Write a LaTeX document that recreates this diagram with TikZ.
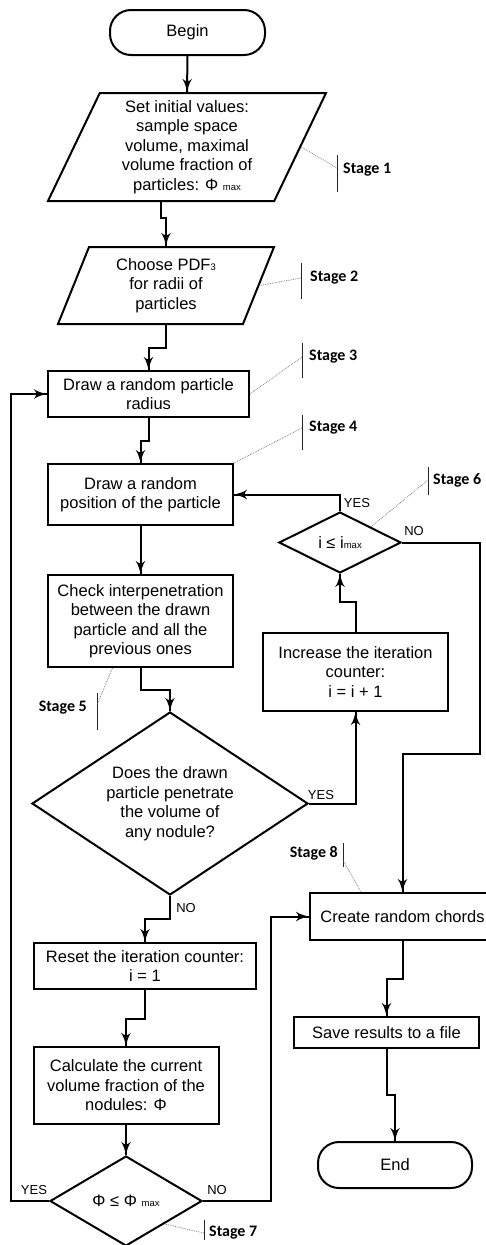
\documentclass[tikz,border=0pt]{standalone}
\usepackage{fontspec}
\setmainfont{Liberation Sans}
\newfontfamily\stagefont{Carlito}
\usetikzlibrary{arrows}
\usetikzlibrary{decorations.markings}
\usetikzlibrary{positioning}
\usetikzlibrary{shapes.geometric}
\usetikzlibrary{calc}
\tikzset{->/.style = {decoration={markings,
                                  mark=at position 1 with {\arrow[scale=1.5]{latex'}}},
                      postaction={decorate}}}
\tikzset{flowbox/.style = {draw, line width=2pt, align=center, inner sep=2pt},
         procbox/.style = {flowbox, rectangle},
         terminal/.style = {flowbox, rectangle, rounded corners=21pt},
         iobox/.style = {flowbox, trapezium, trapezium left angle=62,
                         trapezium right angle=118, trapezium stretches body},
         decision/.style = {flowbox, diamond, inner sep=0pt},
         flow/.style = {line width=2pt},
         yn/.style = {font=\fontsize{13}{13}\selectfont, inner sep=0pt},
         stagelbl/.style = {font=\stagefont\bfseries\fontsize{16}{16}\selectfont, inner sep=0pt},
         stagebar/.style = {line width=0.9pt, black!85},
         leader/.style = {densely dotted, gray, line width=0.8pt}}
\newcommand{\msub}[1]{{\fontsize{9.5}{10}\selectfont #1}}

\begin{document}
\begin{tikzpicture}[x=1pt, y=-1pt, font=\fontsize{16.5}{19.5}\selectfont]
    \useasboundingbox (0,0) rectangle (486,1245);

    % main column
    \node [terminal, minimum width=155pt, minimum height=45pt] (begin) at (187.5,32.5) {Begin};
    \node [iobox, minimum width=278pt, minimum height=108pt] (p1) at (187,147)
        {Set initial values:\\sample space\\volume, maximal\\volume fraction of\\particles: Φ \msub{max}};
    \node [iobox, minimum width=216pt, minimum height=77pt] (p2) at (166,285.5)
        {Choose PDF\msub{3}\\for radii of\\particles};
    \node [procbox, minimum width=201pt, minimum height=46pt] (b3) at (148.5,394)
        {Draw a random particle\\radius};
    \node [procbox, minimum width=185pt, minimum height=61pt] (b4) at (140.5,494.5)
        {Draw a random\\position of the particle};
    \node [procbox, minimum width=185pt, minimum height=92pt] (b5) at (140.5,621)
        {Check interpenetration\\between the drawn\\particle and all the\\previous ones};
    \node [decision, aspect=1.5, minimum width=276pt, minimum height=183pt] (d1) at (170,803.5)
        {Does the drawn\\particle penetrate\\the volume of\\any nodule?};
    \node [procbox, minimum width=222pt, minimum height=46pt] (rs) at (145,966)
        {Reset the iteration counter:\\i = 1};
    \node [procbox, minimum width=185pt, minimum height=77pt] (ca) at (126,1085.5)
        {Calculate the current\\volume fraction of the\\nodules: Φ};
    \node [decision, aspect=2, minimum width=152pt, minimum height=90pt] (d2) at (126,1201)
        {Φ ≤ Φ \msub{max}};

    % right column
    \node [decision, aspect=2, minimum width=122pt, minimum height=61pt] (d3) at (340,542.5)
        {i ≤ i\msub{max}};
    \node [procbox, minimum width=185pt, minimum height=78pt] (inc) at (355.5,672)
        {Increase the iteration\\counter:\\i = i + 1};
    \node [procbox, minimum width=185pt, minimum height=47pt] (cr) at (402.5,916.5)
        {Create random chords};
    \node [procbox, minimum width=185pt, minimum height=31pt] (sv) at (386.5,1032.5)
        {Save results to a file};
    \node [terminal, minimum width=154pt, minimum height=46pt] (en) at (395,1165) {End};

    % flow lines
    \draw [flow, ->] (begin.south) -- (p1.north);
    \draw [flow, ->] (p1.bottom side) -- ++(0,16) -| (p2.north);
    \draw [flow, ->] (p2.south) -- ++(0,23) -| (b3.north);
    \draw [flow, ->] (b3.south) -- ++(0,23) -| (b4.north);
    \draw [flow, ->] (b4.south) -- (b5.north);
    \draw [flow, ->] (b5.south) -- ++(0,22) -| (d1.north);
    \draw [flow, ->] (d1.south) -- ++(0,23) -| (rs.north);
    \draw [flow, ->] (rs.south) -- ++(0,29) -| (ca.north);
    \draw [flow, ->] (ca.south) -- (d2.north);
    \draw [flow, ->] (d2.west) -- ++(-38,0) |- (b3.west);
    \draw [flow, ->] (d2.east) -- ++(68,0) |- (cr.west);
    \draw [flow, ->] (d1.east) -| (inc.south);
    \draw [flow, ->] (inc.north) -- ++(0,-30) -| (d3.south);
    \draw [flow, ->] (d3.north) |- (b4.east);
    \draw [flow, ->] (d3.east) -| ++(78,211) -| (cr.north);
    \draw [flow, ->] (cr.south) -- ++(0,38) -| (sv.north);
    \draw [flow, ->] (sv.south) -- ++(0,46) -| (en.north);

    % yes / no
    \node [yn] (yes3) at (357,503) {YES};
    \node [yn] (no3) at (414,531) {NO};
    \node [yn] (yes1) at (321,795) {YES};
    \node [yn] (no1) at (186,908) {NO};
    \node [yn] (yes2) at (34,1190) {YES};
    \node [yn] (no2) at (217,1190) {NO};

    % stages
    \node [stagelbl, anchor=west] (s1) at (343,170) {Stage 1};
    \draw [stagebar] ($(s1.west)+(-6,-15)$) -- ++(0,37);
    \draw [leader] (p1.right side) -- ($(s1.west)+(-6,-2)$);

    \node [stagelbl, anchor=west] (s2) at (310,278) {Stage 2};
    \draw [stagebar] ($(s2.west)+(-9,-15)$) -- ++(0,36);
    \draw [leader] (p2.right side) -- ($(s2.west)+(-9,0)$);

    \node [stagelbl, anchor=west] (s3) at (309,357) {Stage 3};
    \draw [stagebar] ($(s3.west)+(-7,-14)$) -- ++(0,35);
    \draw [leader] (b3.east) -- ($(s3.west)+(-7,0)$);

    \node [stagelbl, anchor=west] (s4) at (309,428) {Stage 4};
    \draw [stagebar] ($(s4.west)+(-7,-13)$) -- ++(0,35);
    \draw [leader] (b4.north east) -- ($(s4.west)+(-7,0)$);

    \node [stagelbl, anchor=east] (s5) at (87,708) {Stage 5};
    \draw [stagebar] ($(s5.east)+(10,-15)$) -- ++(0,37);
    \draw [leader] ($(b5.south west)!0.7!(b5.south)$) -- ($(s5.east)+(10,-3)$);

    \node [stagelbl, anchor=west] (s6) at (433,480) {Stage 6};
    \draw [stagebar] ($(s6.west)+(-5,-13)$) -- ++(0,28);
    \draw [leader] (d3.north east) -- ($(s6.west)+(-5,0)$);

    \node [stagelbl, anchor=west] (s7) at (209,1233) {Stage 7};
    \draw [stagebar] ($(s7.west)+(-5,-13)$) -- ++(0,20);
    \draw [leader] (d2.south east) -- ($(s7.west)+(-5,0)$);

    \node [stagelbl, anchor=east] (s8) at (338,853) {Stage 8};
    \draw [stagebar] ($(s8.east)+(5,-10)$) -- ++(0,24);
    \draw [leader] ([xshift=52pt]cr.north west) -- ($(s8.east)+(5,7)$);
\end{tikzpicture}
\end{document}
